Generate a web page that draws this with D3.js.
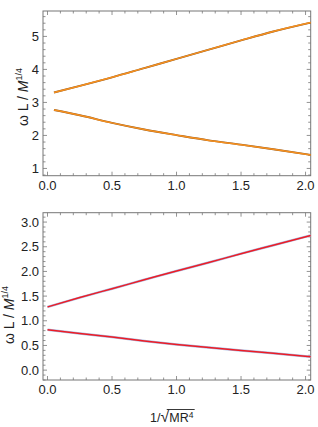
<!DOCTYPE html>
<html><head><meta charset="utf-8">
<script src="https://cdn.jsdelivr.net/npm/d3@7"></script>
<style>body{margin:0;background:#fff}text{font-family:"Liberation Sans",Arial,sans-serif}</style>
</head><body><svg id="c" width="318" height="427"></svg>
<script>
const xTop = [0.05, 0.25, 0.5, 0.75, 1.0, 1.25, 1.5, 1.75, 2.04];
const topUpper = [3.30, 3.50, 3.76, 4.04, 4.32, 4.60, 4.88, 5.15, 5.42];
const topLower = [2.77, 2.61, 2.38, 2.18, 2.01, 1.85, 1.72, 1.58, 1.41];
const xBot = [0.0, 0.25, 0.5, 0.75, 1.0, 1.25, 1.5, 1.75, 2.04];
const botUpper = [1.28, 1.47, 1.65, 1.83, 2.01, 2.18, 2.36, 2.53, 2.73];
const botLower = [0.82, 0.74, 0.67, 0.59, 0.52, 0.46, 0.40, 0.34, 0.27];
const xTicks = [0, 0.5, 1.0, 1.5, 2.0];
const yTicksTop = [1, 2, 3, 4, 5];
const yTicksBot = [0, 0.5, 1.0, 1.5, 2.0, 2.5, 3.0];

const svg = d3.select("#c");
const frameCol = "#777";

function panel(o){
  const g = svg.append("g");
  const x = d3.scaleLinear().domain(o.xd).range([o.l, o.r]);
  const y = d3.scaleLinear().domain(o.yd).range([o.b, o.t]);
  const xMinor = d3.range(0, 2.05, 0.1);
  const yMinor = d3.range(Math.ceil(o.yd[0]/o.ym - 1e-9)*o.ym, o.yd[1], o.ym);
  const isMaj = (v, s) => Math.abs(v/s - Math.round(v/s)) < 1e-6;
  xMinor.forEach(v=>{
    const L = isMaj(v,0.5)?4:2.5;
    g.append("line").attr("x1",x(v)).attr("x2",x(v)).attr("y1",o.b).attr("y2",o.b-L).attr("stroke",frameCol).attr("stroke-width",0.8);
    g.append("line").attr("x1",x(v)).attr("x2",x(v)).attr("y1",o.t).attr("y2",o.t+L).attr("stroke",frameCol).attr("stroke-width",0.8);
  });
  yMinor.forEach(v=>{
    const L = isMaj(v,o.yM)?4:2.5;
    g.append("line").attr("x1",o.l).attr("x2",o.l+L).attr("y1",y(v)).attr("y2",y(v)).attr("stroke",frameCol).attr("stroke-width",0.8);
    g.append("line").attr("x1",o.r).attr("x2",o.r-L).attr("y1",y(v)).attr("y2",y(v)).attr("stroke",frameCol).attr("stroke-width",0.8);
  });
  g.append("rect").attr("x",o.l).attr("y",o.t).attr("width",o.r-o.l).attr("height",o.b-o.t)
    .attr("fill","none").attr("stroke",frameCol).attr("stroke-width",1);
  xTicks.forEach(v=>{
    g.append("text").attr("x",x(v)).attr("y",o.b+14).attr("text-anchor","middle")
      .attr("font-size",13).attr("fill","#222").text(d3.format(".1f")(v));
  });
  o.yt.forEach(v=>{
    g.append("text").attr("x",o.l-4).attr("y",y(v)+4.5).attr("text-anchor","end")
      .attr("font-size",13).attr("fill","#222").text(o.yf(v));
  });
  const line = d3.line().x((d,i)=>x(o.xs[i])).y(d=>y(d)).curve(d3.curveMonotoneX);
  o.series.forEach(s=>{
    g.append("path").attr("d",line(s)).attr("fill","none").attr("stroke",o.under).attr("stroke-width",o.underW);
    g.append("path").attr("d",line(s)).attr("fill","none").attr("stroke",o.col).attr("stroke-width",1.5);
  });
  const lab = g.append("text").attr("transform",`translate(${o.yl},${o.ylc}) rotate(-90)`)
    .attr("text-anchor","middle").attr("font-size",14).attr("fill","#222");
  lab.append("tspan").text("ω L / ");
  lab.append("tspan").attr("font-style","italic").text("M");
  lab.append("tspan").attr("font-size",9).attr("dy",-6).text("1/4");
  return {x,y};
}

panel({l:43, r:310.7, t:11, b:175.7, xd:[-0.035,2.04], yd:[0.78,5.77], ym:0.2, yM:1,
  yt:yTicksTop, yf:d3.format("d"), xs:xTop, series:[topUpper, topLower],
  col:"#F7901E", under:"#8a5a2a", underW:1.9, yl:28, ylc:97});
panel({l:43, r:310.7, t:212.7, b:380, xd:[-0.035,2.04], yd:[-0.2,3.19], ym:0.1, yM:0.5,
  yt:yTicksBot, yf:d3.format(".1f"), xs:xBot, series:[botUpper, botLower],
  col:"#EE1C25", under:"#a8bde3", underW:2.5, yl:14, ylc:315});

const xt = svg.append("text").attr("x",150).attr("y",422).attr("font-size",12.5).attr("fill","#222");
xt.append("tspan").text("1/");
xt.append("tspan").attr("font-size",16).text("√");
const mr = xt.append("tspan").text("MR");
xt.append("tspan").attr("font-size",8.5).attr("dy",-4.5).text("4");
const bb = xt.node().getBBox();
const mrStart = mr.node().getStartPositionOfChar(0).x;
svg.append("line").attr("x1",mrStart-2.5).attr("x2",bb.x+bb.width+1).attr("y1",409.5).attr("y2",409.5)
  .attr("stroke","#222").attr("stroke-width",0.9);
</script></body></html>
